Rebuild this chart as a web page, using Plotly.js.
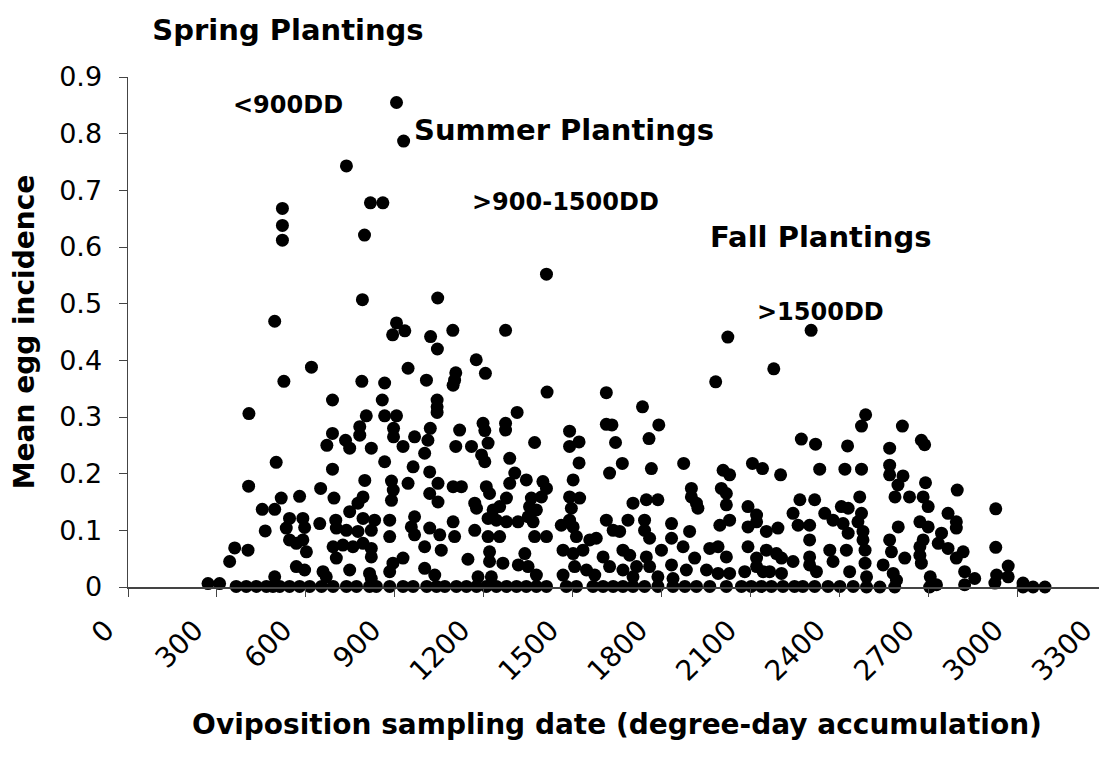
<!DOCTYPE html>
<html>
<head>
<meta charset="utf-8">
<script src="https://cdn.plot.ly/plotly-3.0.1.min.js"></script>
<style>
html,body{margin:0;padding:0;overflow:hidden;background:#ffffff;}
#chart{width:1106px;height:761px;}
</style>
</head>
<body>
<div id="chart"></div>
<script>
// Upper / scattered points (degree-day accumulation, mean egg incidence)
const upperDD = [906,930,737,818,860,521,521,521,798,1412,791,1045,495,906,934,893,1021,1096,1274,2024,2305,
  619,526,789,866,945,690,858,408,804,866,906,782,782,896,896,690,671,734,748,821,928,967,
  1044,1175,1206,1007,1106,1102,1097,1043,1043,1043,1414,1614,1736,1313,1274,1274,1198,1204,1119,1020,1012,
  1490,1614,1633,1372,1522,1490,1645,1106,1159,1215,2179,1983,1791,1758,2272,2320,2428,2489,2475,2613,2677,2688,2570];
const upperEgg = [0.855,0.787,0.743,0.678,0.678,0.668,0.638,0.612,0.621,0.552,0.507,0.51,0.469,0.466,0.452,0.445,0.442,0.453,0.453,0.441,0.453,
  0.388,0.363,0.363,0.36,0.386,0.33,0.33,0.306,0.302,0.302,0.302,0.283,0.268,0.28,0.265,0.271,0.25,0.259,0.245,0.245,0.248,0.265,
  0.42,0.401,0.377,0.365,0.378,0.365,0.356,0.33,0.318,0.308,0.344,0.343,0.318,0.308,0.289,0.277,0.289,0.276,0.277,0.28,0.259,
  0.275,0.287,0.286,0.255,0.256,0.248,0.255,0.248,0.248,0.254,0.385,0.362,0.286,0.262,0.261,0.252,0.249,0.304,0.284,0.284,0.259,0.251,0.245];

// Early sampling dates (< ~1000 DD), lower values
const earlyDD = [500,407,690,799,866,889,895,889,945,962,650,695,579,517,453,495,793,776,748,545,590,647,701,793,832,883,956,
  463,534,596,703,737,776,821,883,545,590,568,692,725,759,793,821,602,967,360,405,343,703,821,894,928,568,596,748,495,658,669,815,821,883];
const earlyEgg = [0.22,0.178,0.208,0.188,0.221,0.187,0.171,0.153,0.183,0.212,0.174,0.157,0.16,0.157,0.137,0.137,0.159,0.148,0.133,0.121,0.121,0.112,0.118,0.121,0.118,0.118,0.106,
  0.099,0.104,0.105,0.104,0.1,0.098,0.1,0.089,0.083,0.083,0.077,0.071,0.074,0.071,0.077,0.068,0.062,0.092,0.069,0.065,0.045,0.051,0.053,0.042,0.051,0.036,0.03,0.03,0.018,0.027,0.018,0.024,0.015,0.027];

// Middle sampling dates (~1000-1700 DD), lower values
const midDD = [1193,1204,1288,1522,1668,1625,1001,1018,1046,1097,1125,1018,1046,1209,1220,1305,1288,1344,1400,1412,1395,1502,1490,1524,
  1277,1254,1232,1170,1176,1361,1355,1378,1704,1496,967,1097,1215,1243,1277,1316,1350,1367,1614,1687,1462,1502,1490,
  1018,1052,1102,1170,1215,1254,1372,1412,1513,1558,1580,1637,1659,1001,1057,1220,1339,1468,1502,1535,1670,1693,1603,
  1147,1220,1265,1317,1350,1001,1507,1547,1625,1670,1035,1181,1226,1378,1468,1575];
const midEgg = [0.233,0.221,0.227,0.219,0.218,0.201,0.236,0.203,0.183,0.177,0.177,0.165,0.15,0.177,0.165,0.201,0.183,0.189,0.186,0.174,0.159,0.189,0.159,0.157,
  0.157,0.142,0.136,0.148,0.139,0.157,0.142,0.136,0.148,0.139,0.124,0.115,0.121,0.118,0.115,0.115,0.124,0.115,0.118,0.118,0.109,0.106,0.118,
  0.104,0.092,0.089,0.1,0.089,0.089,0.089,0.089,0.089,0.083,0.086,0.1,0.098,0.071,0.065,0.062,0.059,0.065,0.059,0.065,0.065,0.056,0.053,
  0.049,0.045,0.042,0.039,0.036,0.033,0.036,0.03,0.036,0.03,0.021,0.018,0.018,0.021,0.021,0.021];

// Later sampling dates (~1700-2450 DD), lower values
const lateDD = [1766,1875,2008,2030,2107,2141,2202,2334,2419,1749,1788,1901,1901,1918,1923,2002,2019,2019,2092,2121,2267,2317,2244,2261,2300,2300,
  2351,2379,2407,2430,2413,2430,2469,1743,1834,1895,1997,2030,2092,2121,2154,2193,1743,1760,1834,1873,1963,1991,1800,2092,2154,2188,2368,2424,
  1749,1760,1912,2019,2121,2121,2205,2244,2300,2300,2379,1716,1834,1884,1952,1991,2030,2081,2143,2165,2205,2323,2435,1704,1788,1839];
const lateEgg = [0.209,0.218,0.206,0.198,0.218,0.209,0.198,0.208,0.208,0.154,0.154,0.174,0.159,0.148,0.139,0.174,0.165,0.145,0.142,0.127,0.154,0.154,0.13,0.109,0.109,0.083,
  0.13,0.118,0.142,0.139,0.112,0.095,0.159,0.118,0.112,0.098,0.109,0.118,0.106,0.115,0.098,0.104,0.1,0.086,0.086,0.071,0.068,0.071,0.065,0.071,0.065,0.059,0.065,0.065,
  0.053,0.036,0.051,0.053,0.051,0.036,0.051,0.045,0.053,0.039,0.045,0.036,0.039,0.03,0.03,0.024,0.024,0.027,0.027,0.027,0.024,0.027,0.027,0.018,0.018,0.015];

// Fall sampling dates (> ~2450 DD), lower values
const fallDD = [2475,2570,2570,2615,2598,2588,2637,2691,2683,2700,2798,2475,2463,2767,2795,2795,2928,2599,2672,2700,2480,2480,2745,2734,2570,2683,2672,
  2767,2818,2928,2487,2576,2621,2795,2672,2677,2487,2548,2970,2823,2857,2931,2970,2582,2593,2492,2707,2728,2823,2925,3020,3020,3054,3094];
const fallEgg = [0.208,0.215,0.198,0.196,0.18,0.159,0.159,0.184,0.159,0.142,0.171,0.13,0.115,0.13,0.115,0.104,0.138,0.106,0.115,0.106,0.098,0.083,0.095,0.077,0.083,0.083,0.071,
  0.068,0.062,0.07,0.065,0.062,0.051,0.051,0.056,0.042,0.042,0.039,0.037,0.027,0.015,0.021,0.018,0.024,0.012,0.018,0.018,0.004,0.004,0.007,0.007,0,0,0];

// Samples at (near) zero incidence
const zeroDD = [270,309,365,399,433,467,489,512,545,579,613,653,692,737,771,815,838,883,928,962,
  1008,1041,1069,1108,1142,1176,1209,1243,1277,1311,1344,1378,1412,1479,1513,1569,1603,1637,1670,
  1704,1743,1788,1839,1879,1918,1963,2019,2070,2103,2137,2171,2210,2249,2277,2317,2362,2402,2447,2492,2537,2587,2705];
const zeroEgg = [0.006,0.006,0.001,0.001,0.001,0.001,0.001,0.001,0.001,0.001,0.001,0.001,0.001,0.001,0.001,0.001,0.001,0.001,0.001,0.001,
  0.001,0.001,0.001,0.001,0.001,0.001,0.001,0.001,0.001,0.001,0.001,0.001,0.001,0.001,0.001,0.001,0.001,0.001,0.001,
  0.001,0.001,0.001,0.001,0.001,0.001,0.001,0.001,0.001,0.001,0.001,0.001,0.001,0.001,0.001,0.001,0.001,0.001,0.001,0,0,0,0];

const xTickVals = [0,300,600,900,1200,1500,1800,2100,2400,2700,3000,3300];
const yTickVals = [0,0.1,0.2,0.3,0.4,0.5,0.6,0.7,0.8,0.9];
const yTickText = ['0','0.1','0.2','0.3','0.4','0.5','0.6','0.7','0.8','0.9'];

const chartTitle = 'Spring Plantings';
const xTitle = 'Oviposition sampling date (degree-day accumulation)';
const yTitle = 'Mean egg incidence';
const noteTexts = ['&lt;900DD','Summer Plantings','&gt;900-1500DD','Fall Plantings','&gt;1500DD'];
const noteX = [540,1471,1475,2339,2336];
const noteY = [0.851,0.806,0.68,0.618,0.485];
const noteSizes = [24,29,24,29,24];

const allDD = [].concat(upperDD, earlyDD, midDD, lateDD, fallDD, zeroDD);
const allEgg = [].concat(upperEgg, earlyEgg, midEgg, lateEgg, fallEgg, zeroEgg);

const FONT = 'DejaVu Sans, Arial, sans-serif';

const trace = {
  type: 'scatter',
  mode: 'markers',
  x: allDD,
  y: allEgg,
  marker: {size: 13, color: '#000000', line: {width: 0}},
  cliponaxis: false,
  hoverinfo: 'skip'
};

const annotations = noteTexts.map((t, i) => ({
  text: '<b>' + t + '</b>',
  x: noteX[i], y: noteY[i], xref: 'x', yref: 'y',
  xanchor: 'center', yanchor: 'middle', showarrow: false,
  font: {family: FONT, size: noteSizes[i], color: '#000'}
}));

const layout = {
  width: 1106, height: 761,
  margin: {l: 128, r: 0, t: 77, b: 174},
  paper_bgcolor: '#ffffff', plot_bgcolor: '#ffffff',
  showlegend: false,
  title: {
    text: '<b>' + chartTitle + '</b>',
    xref: 'container', yref: 'container',
    x: 288/1106, xanchor: 'center',
    y: 1 - 30/761, yanchor: 'middle',
    font: {family: FONT, size: 29, color: '#000'}
  },
  xaxis: {
    range: [0, 3300], tickmode: 'array', tickvals: xTickVals,
    tickangle: -45, ticks: 'outside', ticklen: 8, tickcolor: '#444', tickwidth: 1,
    showline: true, linecolor: '#444', linewidth: 1.5,
    showgrid: false, zeroline: false,
    tickfont: {family: FONT, size: 28, color: '#000'},
    ticklabelshift: -22,
    ticklabelstandoff: 6,
    title: {text: '<b>' + xTitle + '</b>', font: {family: FONT, size: 28, color: '#000'}, standoff: 28},
    automargin: false
  },
  yaxis: {
    range: [0, 0.9], tickmode: 'array', tickvals: yTickVals, ticktext: yTickText,
    ticks: 'outside', ticklen: 8, tickcolor: '#444', tickwidth: 1,
    showline: true, linecolor: '#444', linewidth: 1.5,
    showgrid: false, zeroline: false,
    tickfont: {family: FONT, size: 27, color: '#000'},
    ticklabelstandoff: 11,
    title: {text: '<b>' + yTitle + '</b>', font: {family: FONT, size: 28, color: '#000'}, standoff: 16},
    automargin: false
  },
  annotations: annotations
};

Plotly.newPlot('chart', [trace], layout, {staticPlot: true, displayModeBar: false});
</script>
</body>
</html>
